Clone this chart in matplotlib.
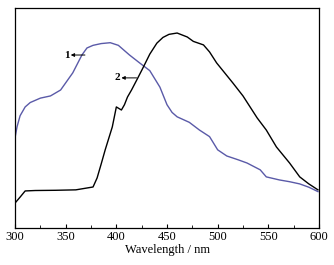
import matplotlib
matplotlib.use("Agg")
import matplotlib.pyplot as plt
from matplotlib.ticker import MultipleLocator

plt.rcParams['font.family'] = ['Liberation Serif', 'DejaVu Serif']

# curve 1 (blue), wavelength in nm, intensity in arbitrary units
wl_1 = [300, 302, 305, 310, 315, 325, 335, 345, 357, 366, 371, 377, 385, 394,
        402, 413, 423, 433, 443, 450, 455, 460, 472, 482, 492, 500, 509, 520,
        529, 542, 548, 561, 571, 581, 590, 599]
int_1 = [0.41, 0.46, 0.51, 0.55, 0.57, 0.59, 0.60, 0.627, 0.705, 0.786, 0.818,
         0.83, 0.838, 0.842, 0.83, 0.786, 0.75, 0.715, 0.64, 0.56, 0.525,
         0.505, 0.48, 0.445, 0.415, 0.355, 0.327, 0.31, 0.295, 0.264, 0.232,
         0.218, 0.21, 0.2, 0.185, 0.165]

# curve 2 (black)
wl_2 = [300, 305, 310, 320, 340, 360, 377, 381, 385, 389, 396, 400, 405, 408,
        411, 415, 421, 426, 433, 440, 446, 452, 460, 470, 476, 486, 492, 499,
        515, 525, 539, 548, 558, 571, 581, 590, 599]
int_2 = [0.113, 0.14, 0.168, 0.17, 0.171, 0.173, 0.186, 0.227, 0.29, 0.355,
         0.459, 0.55, 0.536, 0.56, 0.595, 0.627, 0.68, 0.725, 0.79, 0.84,
         0.866, 0.88, 0.886, 0.868, 0.848, 0.832, 0.8, 0.75, 0.659, 0.6, 0.5,
         0.445, 0.368, 0.295, 0.232, 0.2, 0.173]

fig = plt.figure(figsize=(3.34, 2.65), dpi=100)
ax = fig.add_axes([0.045, 0.14, 0.91, 0.83])

ax.plot(wl_1, int_1, color='#5a5aa8', lw=1.0)
ax.plot(wl_2, int_2, color='black', lw=1.0)

# curve labels with small arrows
ax.text(351, 0.786, '1', fontsize=8, fontweight='bold', ha='center', va='center')
ax.annotate('', xy=(355, 0.786), xytext=(369, 0.786),
            arrowprops=dict(arrowstyle='-|>', color='black', lw=0.7,
                            mutation_scale=5, shrinkA=0, shrinkB=0))
ax.text(401, 0.682, '2', fontsize=8, fontweight='bold', ha='center', va='center')
ax.annotate('', xy=(405, 0.682), xytext=(420, 0.682),
            arrowprops=dict(arrowstyle='-|>', color='black', lw=0.7,
                            mutation_scale=5, shrinkA=0, shrinkB=0))

ax.set_xlim(300, 600)
ax.set_ylim(0, 1)
ax.xaxis.set_major_locator(MultipleLocator(50))
ax.xaxis.set_minor_locator(MultipleLocator(25))
ax.tick_params(axis='x', direction='in', length=3, labelsize=9, pad=2)
ax.tick_params(axis='x', which='minor', direction='in', length=2)
ax.set_yticks([])
ax.set_xlabel('Wavelength / nm', fontsize=9, labelpad=1)
for s in ax.spines.values():
    s.set_linewidth(0.9)

fig.savefig('out.png', dpi=100)
